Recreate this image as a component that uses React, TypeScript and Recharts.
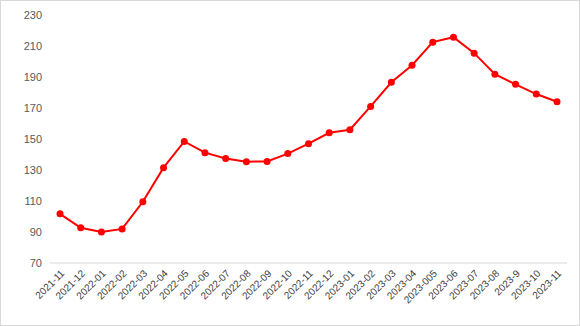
import { LineChart, Line, XAxis, YAxis } from 'recharts';

// ── Data ──────────────────────────────────────────────────────────────────────

const months = [
  '2021-11', '2021-12', '2022-01', '2022-02', '2022-03', '2022-04', '2022-05',
  '2022-06', '2022-07', '2022-08', '2022-09', '2022-10', '2022-11', '2022-12',
  '2023-01', '2023-02', '2023-03', '2023-04', '2023-005', '2023-06', '2023-07',
  '2023-08', '2023-9', '2023-10', '2023-11',
];

const values = [
  101.7, 92.7, 90.0, 92.0, 109.5, 131.5, 148.4, 141.2, 137.4, 135.4, 135.5,
  140.6, 147.0, 154.0, 156.0, 171.0, 186.6, 197.6, 212.5, 215.7, 205.4,
  191.8, 185.3, 179.0, 174.0,
];

const yTicks = [70, 90, 110, 130, 150, 170, 190, 210, 230];

const data = months.map((m, i) => ({ month: m, value: values[i] }));

const FONT = '"Liberation Sans", Arial, sans-serif';

export default function App() {
  return (
    <div
      style={{
        position: 'fixed',
        left: 0,
        top: 0,
        width: 580,
        height: 326,
        background: '#fff',
        border: '1px solid #d9d9d9',
        boxSizing: 'border-box',
        fontFamily: FONT,
      }}
    >
      <LineChart
        width={578}
        height={324}
        data={data}
        margin={{ top: 14, right: 12, left: 0, bottom: 0 }}
      >
        <XAxis
          dataKey="month"
          interval={0}
          padding={{ left: 10, right: 10 }}
          axisLine={{ stroke: '#d9d9d9' }}
          tickLine={false}
          tickSize={0}
          tickMargin={6}
          angle={-45}
          textAnchor="end"
          height={62}
          tick={{ fill: '#404040', fontSize: 10, fontFamily: FONT }}
        />
        <YAxis
          domain={[70, 230]}
          ticks={yTicks}
          axisLine={false}
          tickLine={false}
          width={49}
          tick={{ fill: '#595959', fontSize: 11, fontFamily: FONT }}
        />
        <Line
          type="linear"
          dataKey="value"
          stroke="#ff0000"
          strokeWidth={2}
          dot={{ r: 3.5, fill: '#ff0000', stroke: '#ff0000', strokeWidth: 0 }}
          activeDot={false}
          isAnimationActive={false}
        />
      </LineChart>
    </div>
  );
}
